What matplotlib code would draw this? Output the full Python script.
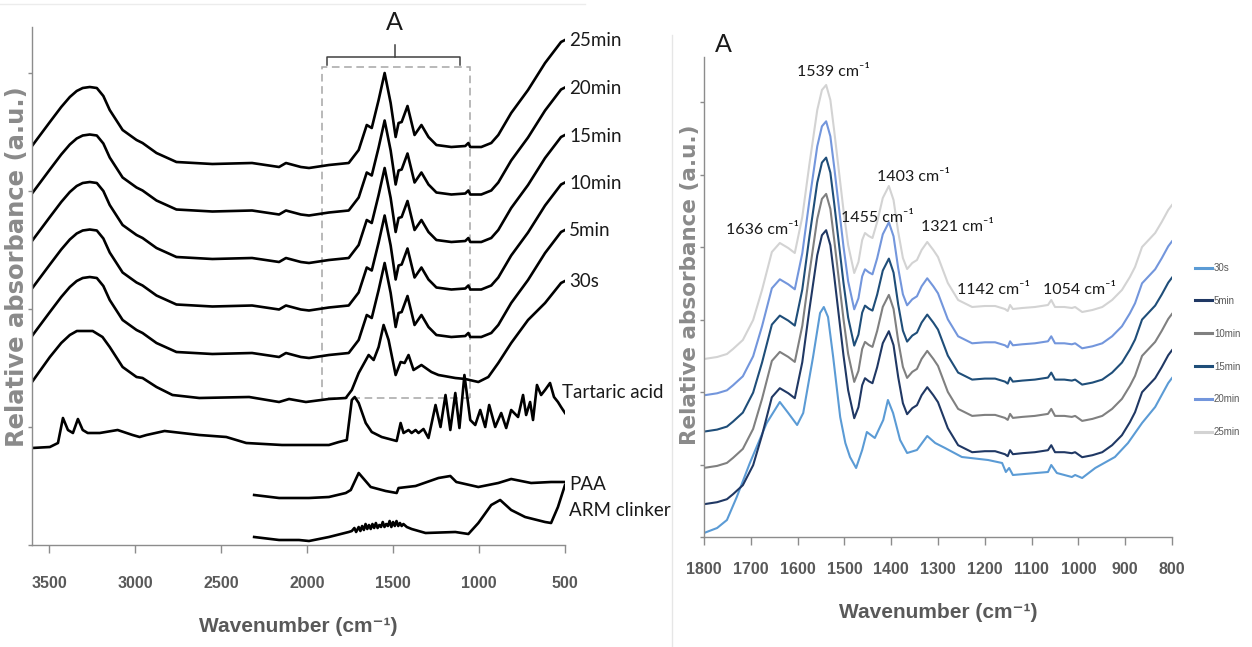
import matplotlib
matplotlib.use("Agg")
import matplotlib.pyplot as plt
from matplotlib.lines import Line2D
from matplotlib.patches import Rectangle
from matplotlib.transforms import blended_transform_factory

# ---------------------------------------------------------------------------
# Spectra (wavenumber in cm-1, relative absorbance in arbitrary units)
# ---------------------------------------------------------------------------

# Full-range spectra of the hydrating paste (5-25 min share the same profile)
wn_paste = [3600, 3496, 3430, 3380, 3340, 3305, 3264, 3223, 3185, 3148, 3073,
            2992, 2957, 2876, 2760, 2551, 2320, 2163, 2123, 2036, 1989, 1873,
            1758, 1700, 1653, 1624, 1584, 1549, 1514, 1485, 1468, 1450, 1416,
            1375, 1335, 1294, 1248, 1161, 1080, 1062, 1051, 987, 929, 888, 813,
            715, 616, 523, 500]
abs_paste = [3.99, 4.23, 4.38, 4.48, 4.54, 4.57, 4.58, 4.57, 4.49, 4.35, 4.15,
             4.05, 4.02, 3.92, 3.83, 3.81, 3.82, 3.78, 3.82, 3.78, 3.77, 3.80,
             3.82, 3.95, 4.20, 4.17, 4.45, 4.72, 4.42, 4.08, 4.22, 4.23, 4.39,
             4.10, 4.20, 4.08, 4.00, 3.98, 3.99, 4.02, 3.98, 3.98, 4.02, 4.10, 4.32,
             4.55, 4.82, 5.03, 5.05]

wn_30s = [3600, 3496, 3430, 3380, 3339, 3247, 3190, 3148, 3073, 2992, 2957,
          2876, 2783, 2627, 2337, 2163, 2105, 2007, 1873, 1775, 1740, 1700,
          1642, 1613, 1584, 1555, 1526, 1485, 1456, 1433, 1410, 1381, 1335,
          1277, 1236, 1138, 1080, 1004, 946, 888, 813, 715, 616, 523, 500]
abs_30s = [1.63, 1.88, 2.02, 2.10, 2.14, 2.14, 2.08, 1.98, 1.78, 1.68, 1.67,
           1.58, 1.50, 1.47, 1.48, 1.43, 1.46, 1.43, 1.46, 1.47, 1.55, 1.72,
           1.90, 1.85, 1.98, 2.20, 2.05, 1.70, 1.83, 1.82, 1.90, 1.75, 1.80,
           1.73, 1.70, 1.67, 1.66, 1.63, 1.68, 1.82, 2.02, 2.25, 2.42, 2.62, 2.64]

wn_tartaric = [3600, 3496, 3449, 3420, 3391, 3362, 3333, 3305, 3276, 3206, 3102,
               3015, 2974, 2934, 2829, 2627, 2470, 2412, 2354, 2146, 1873, 1815,
               1769, 1740, 1723, 1700, 1659, 1624, 1566, 1479, 1456, 1439, 1410,
               1392, 1369, 1352, 1323, 1294, 1253, 1224, 1195, 1167, 1138, 1114,
               1085, 1051, 1022, 993, 964, 941, 906, 871, 842, 813, 773, 744,
               726, 703, 686, 663, 639, 616, 587, 564, 541, 523, 500]
abs_tartaric = [0.97, 0.98, 1.02, 1.27, 1.15, 1.12, 1.26, 1.15, 1.12, 1.12, 1.15,
                1.10, 1.08, 1.10, 1.14, 1.10, 1.08, 1.05, 1.02, 1.00, 1.00, 1.03,
                1.05, 1.45, 1.48, 1.42, 1.22, 1.13, 1.08, 1.04, 1.22, 1.12, 1.15,
                1.12, 1.15, 1.12, 1.16, 1.07, 1.40, 1.18, 1.50, 1.15, 1.52, 1.17,
                1.70, 1.25, 1.20, 1.35, 1.18, 1.40, 1.18, 1.32, 1.17, 1.35, 1.28, 1.50,
                1.30, 1.43, 1.25, 1.60, 1.50, 1.55, 1.62, 1.48, 1.43, 1.38, 1.32]

wn_paa = [2308, 2163, 1989, 1873, 1775, 1746, 1700, 1630, 1543, 1479, 1468,
          1369, 1236, 1167, 1132, 1004, 888, 813, 697, 581, 500]
abs_paa = [0.50, 0.47, 0.47, 0.48, 0.52, 0.55, 0.72, 0.58, 0.54, 0.52, 0.57,
           0.59, 0.67, 0.69, 0.63, 0.58, 0.62, 0.66, 0.62, 0.63, 0.63]

wn_clinker = [2308, 2163, 2047, 1989, 1873, 1758, 1740, 1725, 1715, 1700, 1690,
              1680, 1670, 1660, 1650, 1640, 1630, 1620, 1610, 1600, 1590, 1580,
              1570, 1560, 1550, 1540, 1530, 1520, 1510, 1500, 1490, 1480, 1470,
              1460, 1450, 1440, 1420, 1392, 1311, 1138, 1062, 1004, 929, 877,
              813, 732, 616, 581, 541, 500]
abs_clinker = [0.08, 0.05, 0.05, 0.04, 0.08, 0.13, 0.14, 0.17, 0.13, 0.18, 0.14,
               0.19, 0.15, 0.21, 0.16, 0.20, 0.16, 0.21, 0.17, 0.22, 0.17, 0.20,
               0.18, 0.23, 0.18, 0.21, 0.19, 0.24, 0.18, 0.23, 0.19, 0.24, 0.19,
               0.22, 0.19, 0.21, 0.18, 0.16, 0.12, 0.13, 0.11, 0.22, 0.40, 0.45,
               0.35, 0.28, 0.23, 0.22, 0.38, 0.60]

paste_labels = ["25min", "20min", "15min", "10min", "5min"]

# Zoomed region A (1800-800 cm-1)
wn_zoom = [1800, 1772, 1751, 1738, 1717, 1695, 1676, 1655, 1638, 1620, 1606,
           1590, 1575, 1558, 1548, 1539, 1530, 1522, 1512, 1502, 1492, 1479,
           1470, 1462, 1456, 1448, 1440, 1430, 1418, 1405, 1395, 1385, 1375,
           1366, 1355, 1345, 1335, 1323, 1310, 1300, 1279, 1257, 1227, 1200,
           1178, 1157, 1151, 1146, 1140, 1120, 1093, 1065, 1058, 1050, 1030,
           1014, 1007, 992, 970, 949, 928, 907, 890, 879, 864, 850, 836, 822,
           808, 800]
abs_zoom_paste = [1.78, 1.80, 1.83, 1.88, 1.97, 2.17, 2.47, 2.85, 2.94, 2.89, 2.84,
                  3.20, 3.72, 4.27, 4.47, 4.52, 4.37, 4.07, 3.67, 3.27, 2.92, 2.64,
                  2.75, 2.97, 3.04, 3.01, 2.99, 3.15, 3.39, 3.51, 3.37, 3.05, 2.79,
                  2.68, 2.74, 2.77, 2.87, 2.95, 2.87, 2.80, 2.54, 2.37, 2.30, 2.31,
                  2.31, 2.28, 2.26, 2.32, 2.28, 2.29, 2.30, 2.32, 2.37, 2.30, 2.30,
                  2.29, 2.30, 2.25, 2.27, 2.30, 2.37, 2.47, 2.60, 2.70, 2.90, 2.97,
                  3.04, 3.15, 3.27, 3.32]

wn_zoom_30s = [1800, 1772, 1751, 1730, 1702, 1666, 1638, 1620, 1601, 1588, 1567,
               1552, 1544, 1535, 1524, 1509, 1498, 1488, 1475, 1462, 1452, 1435,
               1417, 1407, 1396, 1381, 1366, 1345, 1323, 1306, 1285, 1249, 1193,
               1163, 1155, 1148, 1140, 1065, 1058, 1046, 1014, 1007, 992, 964,
               922, 894, 864, 836, 808, 800]
abs_zoom_30s = [0.04, 0.09, 0.17, 0.40, 0.74, 1.14, 1.35, 1.24, 1.12, 1.24, 1.80,
                2.24, 2.30, 2.20, 1.80, 1.20, 0.94, 0.80, 0.69, 0.87, 1.05, 0.99,
                1.17, 1.37, 1.24, 0.97, 0.84, 0.87, 1.01, 0.94, 0.89, 0.80, 0.77,
                0.74, 0.65, 0.69, 0.62, 0.65, 0.72, 0.64, 0.60, 0.62, 0.59, 0.69,
                0.80, 0.94, 1.14, 1.30, 1.54, 1.59]

zoom_labels = ["30s", "5min", "10min", "15min", "20min", "25min"]
zoom_colors = ["#5b9bd5", "#203864", "#808080", "#1f4e79", "#7396dc", "#d3d3d3"]

peak_texts = ["1539 cm\u207b\u00b9", "1636 cm\u207b\u00b9", "1455 cm\u207b\u00b9",
              "1403 cm\u207b\u00b9", "1321 cm\u207b\u00b9", "1142 cm\u207b\u00b9",
              "1054 cm\u207b\u00b9"]

# ---------------------------------------------------------------------------
# Layout and styling
# ---------------------------------------------------------------------------
W, H = 1252, 647
AXIS_FONT = ["Liberation Sans Narrow", "Liberation Sans", "DejaVu Sans"]
TEXT_FONT = ["Lato", "DejaVu Sans"]
GREY_AXIS = "#8c8c8c"
GREY_TEXT = "#595959"

paste_step = 0.475      # vertical stacking step, left panel
zoom_step = 0.363       # vertical stacking step, right panel

fig = plt.figure(figsize=(W / 100, H / 100), dpi=100)
fig.patch.set_facecolor("white")

ax1 = fig.add_axes([32 / W, 1 - 545 / H, 533 / W, 518 / H])
ax2 = fig.add_axes([704 / W, 1 - 537 / H, 468 / W, 480 / H])


def style_axes(ax, xticks, yticks, pad):
    for side in ("top", "right"):
        ax.spines[side].set_visible(False)
    for side in ("left", "bottom"):
        ax.spines[side].set_color(GREY_AXIS)
        ax.spines[side].set_linewidth(1.0)
    ax.set_xticks(xticks)
    ax.set_yticks(yticks)
    ax.tick_params(axis="x", direction="out", length=6, width=1.0,
                   color=GREY_AXIS, pad=pad)
    ax.tick_params(axis="y", direction="out", length=3, width=1.0,
                   color=GREY_AXIS, labelleft=False)
    for lab in ax.get_xticklabels():
        lab.set_fontfamily(AXIS_FONT)
        lab.set_fontweight("bold")
        lab.set_fontsize(11.5)
        lab.set_color(GREY_TEXT)


# ------------------------------ left panel ---------------------------------
ax1.set_xlim(3600, 500)
ax1.set_ylim(0, 5.18)
style_axes(ax1, [3500, 3000, 2500, 2000, 1500, 1000, 500],
           [0, 1.18, 2.36, 3.54, 4.72], pad=16)

lab_tr = blended_transform_factory(ax1.transAxes, ax1.transData)
for i, name in enumerate(paste_labels):
    shift = -i * paste_step
    ax1.plot(wn_paste, [v + shift for v in abs_paste], color="black", lw=1.9,
             solid_joinstyle="round")
    ax1.text(1.008, abs_paste[-1] + shift - 0.01, name, transform=lab_tr,
             ha="left", va="center", fontsize=13.5, family=TEXT_FONT,
             color="#1a1a1a", clip_on=False)

ax1.plot(wn_30s, abs_30s, color="black", lw=1.9, solid_joinstyle="round")
ax1.text(1.008, abs_30s[-1] - 0.01, "30s", transform=lab_tr, ha="left",
         va="center", fontsize=13.5, family=TEXT_FONT, color="#1a1a1a")

ax1.plot(wn_tartaric, abs_tartaric, color="black", lw=1.9, solid_joinstyle="round")
ax1.plot(wn_paa, abs_paa, color="black", lw=1.9, solid_joinstyle="round")
ax1.plot(wn_clinker, abs_clinker, color="black", lw=1.9, solid_joinstyle="round")

for txt, xa, ya in (("Tartaric acid", 0.994, 1.52), ("PAA", 1.008, 0.61),
                    ("ARM clinker", 1.008, 0.35)):
    ax1.text(xa, ya, txt, transform=lab_tr, ha="left", va="center",
             fontsize=13.5, family=TEXT_FONT, color="#1a1a1a")

# region A: dashed box and bracket
ax1.add_patch(Rectangle((1051, 1.47), 1915 - 1051, 4.78 - 1.47, fill=False,
                        edgecolor="#a6a6a6", lw=1.1, ls=(0, (5, 3))))
ax1.plot([1885, 1885, 1109, 1109], [4.80, 4.88, 4.88, 4.80], color="#404040",
         lw=1.1, clip_on=False)
ax1.plot([1491, 1491], [4.88, 5.00], color="#404040", lw=1.1, clip_on=False)
ax1.text(1491, 5.22, "A", ha="center", va="center", fontsize=18,
         family=TEXT_FONT, color="#1a1a1a", clip_on=False)

# ------------------------------ right panel --------------------------------
ax2.set_xlim(1800, 800)
ax2.set_ylim(0, 4.80)
style_axes(ax2, list(range(1800, 799, -100)),
           [0, 0.725, 1.45, 2.175, 2.90, 3.625, 4.35], pad=12)

handles = []
ln, = ax2.plot(wn_zoom_30s, abs_zoom_30s, color=zoom_colors[0], lw=1.5)
handles.append(ln)
for k in range(1, 6):
    shift = -(5 - k) * zoom_step
    ln, = ax2.plot(wn_zoom, [v + shift for v in abs_zoom_paste],
                   color=zoom_colors[k], lw=1.5)
    handles.append(ln)

for txt, xw, yv in zip(peak_texts,
                       [1524, 1676, 1430, 1353, 1259, 1182, 997],
                       [4.65, 3.07, 3.19, 3.60, 3.10, 2.47, 2.47]):
    ax2.text(xw, yv, txt, ha="center", va="center", fontsize=11.5,
             family=TEXT_FONT, color="#1a1a1a", clip_on=False)

ax2.text(1759, 4.92, "A", ha="center", va="center", fontsize=18,
         family=TEXT_FONT, color="#1a1a1a", clip_on=False)

leg_handles = [Line2D([], [], color=h.get_color(), lw=2.2) for h in handles]
leg = fig.legend(leg_handles, zoom_labels, loc="upper left",
                 bbox_to_anchor=(1195 / W, 1 - 263 / H),
                 bbox_transform=fig.transFigure, frameon=False,
                 fontsize=7, handlelength=1.7, handletextpad=0.25,
                 labelspacing=2.35, borderpad=0, borderaxespad=0)
for t in leg.get_texts():
    t.set_color(GREY_TEXT)
    t.set_fontfamily(AXIS_FONT)

# ------------------------------ axis titles --------------------------------
fig.text(298 / W, 1 - 627 / H, "Wavenumber (cm\u207b\u00b9)", ha="center",
         va="center", fontsize=15, fontweight="bold", family=AXIS_FONT,
         color=GREY_TEXT)
fig.text(938 / W, 1 - 613 / H, "Wavenumber (cm\u207b\u00b9)", ha="center",
         va="center", fontsize=15, fontweight="bold", family=AXIS_FONT,
         color=GREY_TEXT)
fig.text(17 / W, 1 - 267 / H, "Relative absorbance (a.u.)", rotation=90,
         ha="center", va="center", fontsize=17.5, fontweight="bold",
         family=["DejaVu Sans"], color="#8a8a8a")
fig.text(690 / W, 1 - 285 / H, "Relative absorbance (a.u.)", rotation=90,
         ha="center", va="center", fontsize=15.5, fontweight="bold",
         family=["DejaVu Sans"], color="#8a8a8a")

# faint panel borders
fig.add_artist(Line2D([0, 585 / W], [1 - 4 / H, 1 - 4 / H],
                      transform=fig.transFigure, color="#ececec", lw=1))
fig.add_artist(Line2D([672 / W, 672 / W], [0, 1 - 35 / H],
                      transform=fig.transFigure, color="#e6e6e6", lw=1))

fig.savefig("out.png", dpi=100, facecolor="white")
